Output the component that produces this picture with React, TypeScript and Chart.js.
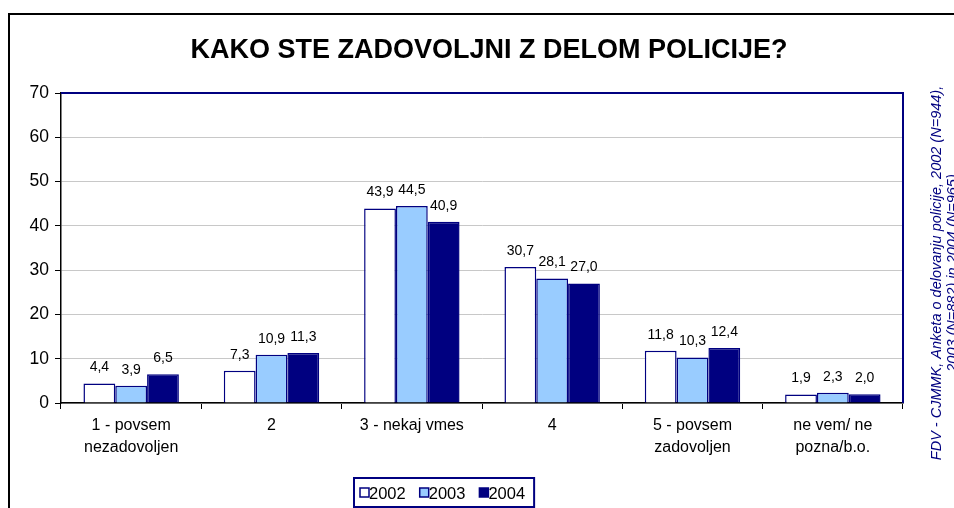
import React, { useEffect, useRef } from "react";
import { Chart, registerables } from "chart.js";

Chart.register(...registerables);

const TITLE = "KAKO STE ZADOVOLJNI Z DELOM POLICIJE?";
const SOURCE_LINES = [
  "FDV - CJMMK, Anketa o delovanju policije, 2002 (N=944),",
  "2003 (N=882) in 2004 (N=965)",
];
const categories: string[][] = [
  ["1 - povsem", "nezadovoljen"],
  ["2"],
  ["3 - nekaj vmes"],
  ["4"],
  ["5 - povsem", "zadovoljen"],
  ["ne vem/ ne", "pozna/b.o."],
];
const years = ["2002", "2003", "2004"];
const values2002 = [4.4, 7.3, 43.9, 30.7, 11.8, 1.9];
const values2003 = [3.9, 10.9, 44.5, 28.1, 10.3, 2.3];
const values2004 = [6.5, 11.3, 40.9, 27.0, 12.4, 2.0];
const yTicks = [0, 10, 20, 30, 40, 50, 60, 70];

const NAVY = "#000080";
const colors = ["#FFFFFF", "#99CCFF", NAVY];
const FONT = "Arial, 'Liberation Sans', sans-serif";

const decorPlugin = {
  id: "decor",
  afterDatasetsDraw(chart: any) {
    const ctx = chart.ctx;
    const area = chart.chartArea;
    ctx.save();
    // plot border (top & right navy)
    ctx.strokeStyle = NAVY;
    ctx.lineWidth = 2;
    ctx.beginPath();
    ctx.moveTo(area.left, area.top);
    ctx.lineTo(area.right, area.top);
    ctx.lineTo(area.right, area.bottom);
    ctx.stroke();
    // value labels
    ctx.fillStyle = "#000";
    ctx.font = `14px ${FONT}`;
    ctx.textAlign = "center";
    ctx.textBaseline = "middle";
    chart.data.datasets.forEach((ds: any, i: number) => {
      const meta = chart.getDatasetMeta(i);
      meta.data.forEach((el: any, j: number) => {
        const v = ds.data[j] as number;
        ctx.fillText(v.toFixed(1).replace(".", ","), el.x, el.y - 16);
      });
    });
    ctx.restore();
  },
  afterDraw(chart: any) {
    const ctx = chart.ctx;
    ctx.save();
    // outer frame
    ctx.strokeStyle = "#000";
    ctx.lineWidth = 2;
    ctx.strokeRect(9, 14, 980, 540);
    // title
    ctx.fillStyle = "#000";
    ctx.font = `bold 27px ${FONT}`;
    ctx.textAlign = "center";
    ctx.textBaseline = "middle";
    ctx.fillText(TITLE, 489, 51);
    // legend
    ctx.font = `16.5px ${FONT}`;
    ctx.textAlign = "left";
    let x = 360;
    const ly = 493;
    const startX = 354;
    chart.data.datasets.forEach((ds: any, i: number) => {
      ctx.fillStyle = colors[i];
      ctx.fillRect(x, ly - 5, 9, 9);
      ctx.strokeStyle = NAVY;
      ctx.lineWidth = 1.5;
      ctx.strokeRect(x, ly - 5, 9, 9);
      ctx.fillStyle = "#000";
      ctx.fillText(ds.label, x + 9, ly + 1);
      const w = ctx.measureText(ds.label).width;
      x += 9 + 1 + w + 13;
    });
    ctx.strokeStyle = NAVY;
    ctx.lineWidth = 2;
    ctx.strokeRect(startX, 478, x - 13 + 8 - startX, 29);
    // source text (rotated)
    ctx.fillStyle = NAVY;
    ctx.font = `italic 14.5px ${FONT}`;
    ctx.textAlign = "center";
    ctx.textBaseline = "middle";
    SOURCE_LINES.forEach((line, i) => {
      ctx.save();
      ctx.translate(937 + i * 16, 273);
      ctx.rotate(-Math.PI / 2);
      ctx.fillText(line, 0, 0);
      ctx.restore();
    });
    ctx.restore();
  },
};

export default function App() {
  const ref = useRef<HTMLCanvasElement | null>(null);
  useEffect(() => {
    document.body.style.margin = "0";
    const canvas = ref.current!;
    const chart = new Chart(canvas, {
      type: "bar",
      data: {
        labels: categories,
        datasets: [values2002, values2003, values2004].map((d, i) => ({
          label: years[i],
          data: d,
          backgroundColor: colors[i],
          borderColor: NAVY,
          borderWidth: 1.5,
          categoryPercentage: 0.68,
          barPercentage: 1,
        })),
      },
      options: {
        responsive: false,
        animation: false,
        devicePixelRatio: 1,
        layout: { padding: { left: 0, top: 93, right: 51, bottom: 0 } },
        plugins: {
          legend: { display: false },
          title: { display: false },
          tooltip: { enabled: false },
        },
        scales: {
          x: {
            grid: {
              drawOnChartArea: false,
              drawTicks: true,
              tickLength: 6,
              tickColor: "#000",
              offset: true,
            },
            border: { color: "#000", width: 1.5 },
            ticks: {
              color: "#000",
              font: { family: FONT, size: 16, lineHeight: 1.4 },
              padding: 5,
              maxRotation: 0,
              autoSkip: false,
            },
            afterFit: (s: any) => {
              s.height = 105;
            },
          },
          y: {
            min: 0,
            max: 70,
            afterBuildTicks: (s: any) => {
              s.ticks = yTicks.map((v) => ({ value: v }));
            },
            grid: {
              color: "#C8C8C8",
              lineWidth: 1,
              tickLength: 6,
              tickColor: "#000",
            },
            border: { color: "#000", width: 1.5 },
            ticks: {
              color: "#000",
              font: { family: FONT, size: 17.5 },
              padding: 6,
            },
            afterFit: (s: any) => {
              s.width = 61;
            },
          },
        },
      },
      plugins: [decorPlugin],
    });
    return () => chart.destroy();
  }, []);
  return (
    <div style={{ width: 954, height: 508 }}>
      <canvas ref={ref} width={954} height={508} style={{ display: "block" }} />
    </div>
  );
}
